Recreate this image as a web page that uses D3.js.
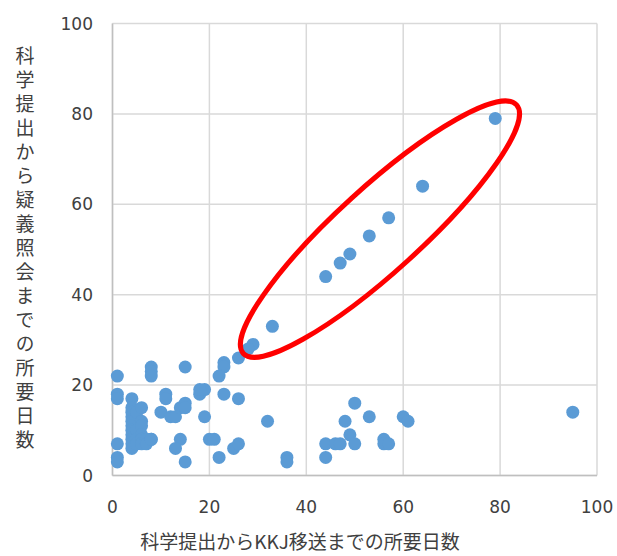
<!DOCTYPE html>
<html>
<head>
<meta charset="utf-8">
<script src="https://cdn.jsdelivr.net/npm/d3@7"></script>
<style>
  body { margin: 0; background: #fff; }
  svg { display: block; }
  text { font-family: "Noto Sans CJK JP", "Noto Sans", sans-serif; fill: #404040; }
</style>
</head>
<body>
<svg id="chart"></svg>
<script>
// ---- Data ----
const xDays = [
  79, 64, 57, 53, 49, 47, 44, 33, 29, 28, 26, 23, 23, 22,
  1, 1, 1, 1, 1, 1, 8, 8, 8, 15,
  4, 4, 4, 4, 4, 4, 4, 4, 4, 4, 4, 5, 5, 5, 5, 6, 6, 6, 6, 6, 6, 7, 7, 8, 8,
  11, 11, 10, 12, 13, 14, 15, 15, 18, 19, 18, 23, 26, 19, 32,
  14, 13, 15, 20, 21, 22, 25, 26,
  36, 36, 50, 48, 53, 60, 61, 49, 44, 46, 47, 50, 44, 56, 56, 57, 95
];
const yDays = [
  79, 64, 57, 53, 49, 47, 44, 33, 29, 28, 26, 25, 24, 22,
  22, 18, 17, 7, 4, 3, 24, 23, 22, 24,
  17, 15, 14, 13, 12, 11, 10, 9, 8, 7, 6, 14, 10, 8, 7, 15, 12, 11, 9, 8, 7, 8, 7, 8, 8,
  18, 17, 14, 13, 13, 15, 16, 15, 18, 19, 19, 18, 17, 13, 12,
  8, 6, 3, 8, 8, 4, 6, 7,
  4, 3, 16, 12, 13, 13, 12, 9, 7, 7, 7, 7, 4, 8, 7, 7, 14
];
const xTicks = [0, 20, 40, 60, 80, 100];
const yTicks = [0, 20, 40, 60, 80, 100];
const xTitle = '科学提出からKKJ移送までの所要日数';
const yTitle = '科学提出から疑義照会までの所要日数';
// highlighted group: ends of the red ellipse, in days
const ringFrom = [27, 27];
const ringTo = [83.4, 82];

const width = 617, height = 556;
const margin = { left: 112.5, right: 20, top: 23.5, bottom: 80.5 };

const svg = d3.select('#chart').attr('width', width).attr('height', height);

const x = d3.scaleLinear().domain([0, 100]).range([margin.left, width - margin.right]);
const y = d3.scaleLinear().domain([0, 100]).range([height - margin.bottom, margin.top]);

// ---- Grid ----
const grid = svg.append('g');
grid.selectAll('.gx').data(xTicks).join('line')
  .attr('x1', d => x(d)).attr('x2', d => x(d))
  .attr('y1', y(0)).attr('y2', y(100))
  .attr('stroke', '#d9d9d9').attr('stroke-width', 1.5);
grid.selectAll('.gy').data(yTicks).join('line')
  .attr('x1', x(0)).attr('x2', x(100))
  .attr('y1', d => y(d)).attr('y2', d => y(d))
  .attr('stroke', '#d9d9d9').attr('stroke-width', 1.5);

// axis lines
svg.append('line').attr('x1', x(0)).attr('x2', x(100)).attr('y1', y(0)).attr('y2', y(0))
  .attr('stroke', '#bfbfbf').attr('stroke-width', 1.5);
svg.append('line').attr('x1', x(0)).attr('x2', x(0)).attr('y1', y(0)).attr('y2', y(100))
  .attr('stroke', '#bfbfbf').attr('stroke-width', 1.5);

// ---- Tick labels ----
svg.append('g').selectAll('text').data(xTicks).join('text')
  .attr('x', d => x(d)).attr('y', 513)
  .attr('text-anchor', 'middle')
  .style('font-family', 'Verdana, "DejaVu Sans", sans-serif')
  .style('font-size', '17px')
  .text(d => d);
svg.append('g').selectAll('text').data(yTicks).join('text')
  .attr('x', 93).attr('y', d => y(d)).attr('dy', '0.36em')
  .attr('text-anchor', 'end')
  .style('font-family', 'Verdana, "DejaVu Sans", sans-serif')
  .style('font-size', '17px')
  .text(d => d);

// ---- Axis titles ----
svg.append('text')
  .attr('x', 300).attr('y', 549)
  .attr('text-anchor', 'middle')
  .style('font-size', '19px')
  .text(xTitle);

// vertical stacked title
svg.append('text')
  .attr('x', 25).attr('y', 46)
  .style('writing-mode', 'vertical-rl')
  .style('text-orientation', 'upright')
  .style('letter-spacing', '5px')
  .style('font-size', '19px')
  .text(yTitle);

// ---- Points ----
svg.append('g').selectAll('circle').data(d3.range(xDays.length)).join('circle')
  .attr('cx', i => x(xDays[i]))
  .attr('cy', i => y(yDays[i]))
  .attr('r', 6.5)
  .attr('fill', '#5b9bd5');

// ---- Red ellipse around the diagonal group ----
const p1 = [x(ringFrom[0]), y(ringFrom[1])];
const p2 = [x(ringTo[0]), y(ringTo[1])];
const cx = (p1[0] + p2[0]) / 2, cy = (p1[1] + p2[1]) / 2;
const rx = Math.hypot(p2[0] - p1[0], p2[1] - p1[1]) / 2;
const angle = Math.atan2(p2[1] - p1[1], p2[0] - p1[0]) * 180 / Math.PI;
svg.append('ellipse')
  .attr('transform', `translate(${cx},${cy}) rotate(${angle})`)
  .attr('rx', rx).attr('ry', 42)
  .attr('fill', 'none')
  .attr('stroke', '#ff0000')
  .attr('stroke-width', 5);
</script>
</body>
</html>
